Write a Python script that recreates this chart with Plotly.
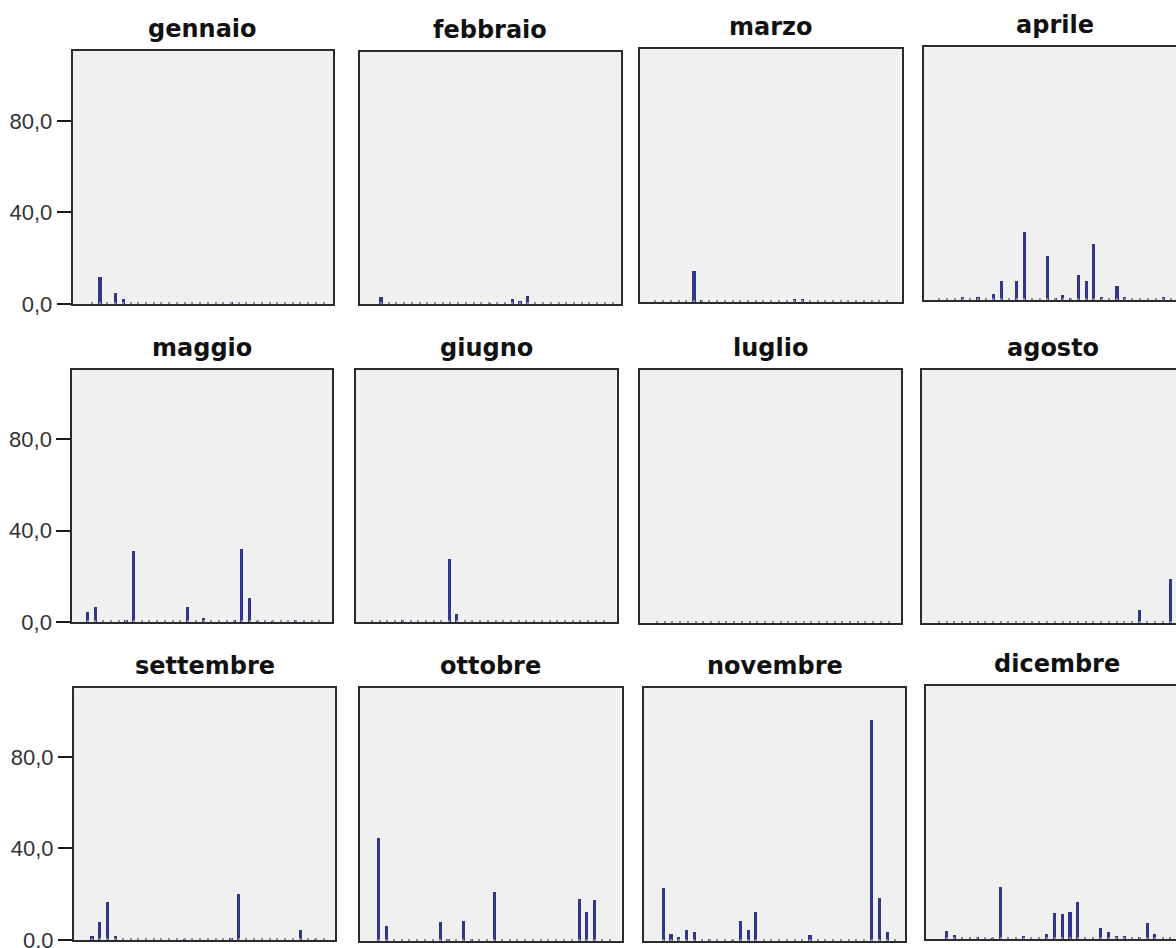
import plotly.graph_objects as go

# Precipitazione giornaliera (mm) per mese
mesi = ["gennaio", "febbraio", "marzo", "aprile",
        "maggio", "giugno", "luglio", "agosto",
        "settembre", "ottobre", "novembre", "dicembre"]

giorni = list(range(1, 32))

gennaio_giorni = [2, 4, 5, 19]
gennaio_mm = [12.0, 4.6, 2.2, 0.6]

febbraio_giorni = [1, 15, 18, 19, 20]
febbraio_mm = [3.2, 0.4, 2.2, 1.3, 3.8]

marzo_giorni = [6, 7, 19, 20]
marzo_mm = [13.4, 0.5, 1.2, 1.2]

aprile_giorni = [4, 6, 8, 9, 11, 12, 15, 16, 17, 18, 19, 20, 21, 22, 24, 25, 30]
aprile_mm = [1.0, 1.0, 2.3, 8.0, 8.0, 29.5, 19.2, 0.6, 2.0, 0.7, 10.9, 8.3,
             24.4, 1.3, 6.0, 1.2, 1.0]

maggio_giorni = [1, 2, 6, 7, 14, 16, 20, 21, 22, 23, 25, 28]
maggio_mm = [4.7, 6.5, 1.2, 31.0, 6.5, 1.8, 1.0, 31.9, 10.6, 0.4, 0.5, 0.8]

giugno_giorni = [5, 11, 12]
giugno_mm = [1.0, 27.5, 3.5]

luglio_giorni = []
luglio_mm = []

agosto_giorni = [27, 31]
agosto_mm = [5.7, 19.0]

settembre_giorni = [1, 2, 3, 4, 13, 19, 20, 28, 30]
settembre_mm = [1.7, 7.6, 16.6, 1.7, 0.3, 0.9, 20.0, 4.2, 0.3]

ottobre_giorni = [1, 2, 9, 10, 12, 13, 16, 27, 28, 29]
ottobre_mm = [45.1, 6.4, 8.3, 0.6, 8.6, 0.5, 21.4, 18.3, 12.7, 18.0]

novembre_giorni = [1, 2, 3, 4, 5, 7, 10, 11, 12, 13, 20, 28, 29, 30]
novembre_mm = [23.0, 2.9, 1.7, 4.6, 3.8, 0.5, 0.4, 8.6, 4.6, 12.7, 2.6,
               96.6, 18.8, 3.9]

dicembre_giorni = [1, 2, 5, 7, 8, 11, 14, 15, 16, 17, 18, 21, 22, 23, 24, 26, 27, 28]
dicembre_mm = [3.5, 1.6, 0.5, 0.4, 22.8, 1.3, 2.3, 11.2, 11.1, 11.6, 16.3,
               4.8, 3.2, 1.45, 1.45, 0.7, 6.8, 2.3]

serie = [
    (gennaio_giorni, gennaio_mm), (febbraio_giorni, febbraio_mm),
    (marzo_giorni, marzo_mm), (aprile_giorni, aprile_mm),
    (maggio_giorni, maggio_mm), (giugno_giorni, giugno_mm),
    (luglio_giorni, luglio_mm), (agosto_giorni, agosto_mm),
    (settembre_giorni, settembre_mm), (ottobre_giorni, ottobre_mm),
    (novembre_giorni, novembre_mm), (dicembre_giorni, dicembre_mm),
]

# ---- layout of the panels (pixels): left, right, top, bottom, offset of day 1
W, H = 1176, 948
PX_GIORNO = 7.72      # pixels per day
PX_MM = 2.29          # pixels per mm
pannelli = [
    (72.7, 333.0, 51.0, 304.0, 19.3),
    (360.0, 620.7, 51.7, 304.0, 21.0),
    (640.0, 901.7, 49.3, 302.3, 15.4),
    (924.0, 1185.0, 47.3, 300.0, 15.4),
    (72.3, 332.3, 370.0, 622.3, 15.4),
    (356.0, 616.7, 370.0, 622.3, 16.0),
    (640.0, 901.0, 370.0, 622.7, 17.0),
    (922.0, 1183.0, 370.0, 622.7, 17.0),
    (74.0, 335.0, 688.3, 940.0, 18.0),
    (360.0, 621.7, 687.7, 940.7, 18.5),
    (644.0, 905.0, 687.7, 940.7, 19.3),
    (926.0, 1187.0, 686.0, 939.0, 20.5),
]

BAR_COLOR = "#30358f"
LINE_COLOR = "#2b2b2b"

fig = go.Figure()
layout = dict(
    width=W, height=H,
    margin=dict(l=0, r=0, t=0, b=0, autoexpand=False),
    paper_bgcolor="white",
    plot_bgcolor="#f0f0f0",
    showlegend=False,
    separators=", ",
    bargap=0,
    annotations=[],
)

for i, (mese, (gg, mm), (l, r, t, b, d1)) in enumerate(zip(mesi, serie, pannelli)):
    n = "" if i == 0 else str(i + 1)
    r_vis = min(r, W)
    x_lo = 1 - d1 / PX_GIORNO
    x_hi = x_lo + (r_vis - l) / PX_GIORNO
    y_hi = (b - t) / PX_MM
    colonna = i % 4
    clipped = r > W

    fig.add_trace(go.Bar(
        x=gg, y=mm, width=0.4,
        marker=dict(color=BAR_COLOR, line=dict(width=0)),
        xaxis="x" + n, yaxis="y" + n,
        hoverinfo="x+y",
    ))

    layout["xaxis" + n] = dict(
        domain=[l / W, r_vis / W],
        anchor="y" + n,
        range=[x_lo, x_hi],
        automargin=False,
        showgrid=False, zeroline=False,
        showline=True, linecolor=LINE_COLOR, linewidth=2, mirror=True,
        tickmode="array", tickvals=giorni, showticklabels=False,
        ticks="inside", ticklen=2, tickwidth=1.5, tickcolor="#8c8ca6",
        fixedrange=True,
    )
    yax = dict(
        domain=[1 - b / H, 1 - t / H],
        anchor="x" + n,
        range=[0, y_hi],
        automargin=False,
        showgrid=False, zeroline=False,
        showline=True, linecolor=LINE_COLOR, linewidth=2,
        mirror=(not clipped),
        fixedrange=True,
    )
    if colonna == 0:
        yax.update(
            tickmode="array", tickvals=[0, 40, 80], tickformat=".1f",
            ticks="outside", ticklen=14, tickwidth=2, tickcolor="#1a1a1a",
            ticklabeloverflow="allow",
            tickfont=dict(family="Liberation Sans, Arial", size=22, color="#333333"),
        )
    else:
        yax.update(showticklabels=False, ticks="")
    layout["yaxis" + n] = yax

    layout["annotations"].append(dict(
        text="<b>%s</b>" % mese,
        xref="paper", yref="paper",
        x=(l + r) / 2 / W, y=1 - (t - 6) / H,
        xanchor="center", yanchor="bottom",
        showarrow=False,
        font=dict(family="DejaVu Sans", size=24, color="#111111"),
    ))

fig.update_layout(**layout)
fig.write_html("out.html")
